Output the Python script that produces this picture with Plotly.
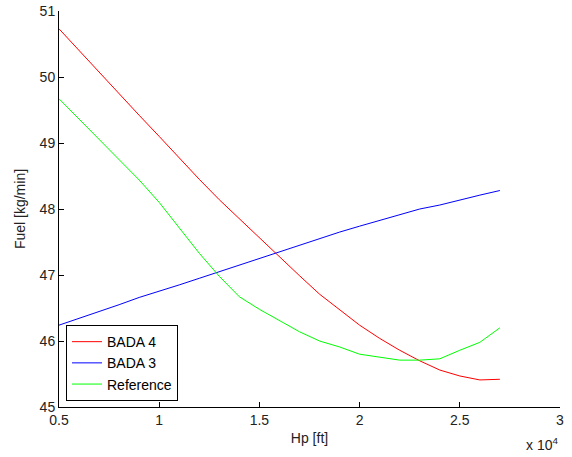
import plotly.graph_objects as go

hp = [5000, 6000, 7000, 8000, 9000, 10000, 11000, 12000, 13000, 14000, 15000, 16000,
      17000, 18000, 19000, 20000, 21000, 22000, 23000, 24000, 25000, 26000, 27000]

bada4 = [50.73, 50.40, 50.08, 49.75, 49.42, 49.10, 48.77, 48.45, 48.14, 47.85, 47.56, 47.27,
         46.99, 46.71, 46.47, 46.24, 46.04, 45.86, 45.70, 45.56, 45.47, 45.41, 45.42]
bada3 = [46.24, 46.34, 46.44, 46.55, 46.66, 46.75, 46.85, 46.95, 47.05, 47.15, 47.25, 47.36,
         47.46, 47.56, 47.65, 47.74, 47.83, 47.91, 48.00, 48.06, 48.14, 48.21, 48.28]
reference = [49.67, 49.36, 49.05, 48.75, 48.44, 48.10, 47.72, 47.33, 46.98, 46.67, 46.48, 46.31,
             46.14, 46.00, 45.91, 45.80, 45.75, 45.71, 45.71, 45.73, 45.86, 45.98, 46.20]

x_ticks = [5000, 10000, 15000, 20000, 25000, 30000]
x_ticktext = ["0.5", "1", "1.5", "2", "2.5", "3"]
y_ticks = [45, 46, 47, 48, 49, 50, 51]

font = "Liberation Sans, Arial, sans-serif"

fig = go.Figure()
fig.add_trace(go.Scatter(x=hp, y=bada4, mode="lines", name="BADA 4",
                         line=dict(color="#FF0000", width=1)))
fig.add_trace(go.Scatter(x=hp, y=bada3, mode="lines", name="BADA 3",
                         line=dict(color="#0000FF", width=1)))
fig.add_trace(go.Scatter(x=hp, y=reference, mode="lines", name="Reference",
                         line=dict(color="#00FF00", width=1)))

fig.update_layout(
    width=572, height=457,
    margin=dict(l=59, r=12, t=11, b=50),
    paper_bgcolor="white", plot_bgcolor="white",
    font=dict(family=font, size=14, color="#222222"),
    showlegend=True,
    legend=dict(x=0.014, y=0.015, xanchor="left", yanchor="bottom",
                bordercolor="black", borderwidth=1, bgcolor="white",
                font=dict(size=14, color="black"), tracegroupgap=0),
    xaxis=dict(range=[5000, 30000], tickvals=x_ticks, ticktext=x_ticktext,
               ticks="inside", ticklen=5, tickcolor="black", automargin=False,
               showline=True, linecolor="black", linewidth=1,
               showgrid=False, zeroline=False,
               title=dict(text="Hp [ft]", font=dict(size=14), standoff=6)),
    yaxis=dict(range=[45, 51], tickvals=y_ticks,
               ticks="inside", ticklen=5, tickcolor="black", automargin=False,
               showline=True, linecolor="black", linewidth=1,
               showgrid=False, zeroline=False,
               title=dict(text="Fuel [kg/min]", font=dict(size=14), standoff=10)),
    annotations=[dict(text="x 10<sup>4</sup>", xref="paper", yref="paper",
                      x=1.0, y=0, xanchor="right", yanchor="top", yshift=-26,
                      showarrow=False, font=dict(size=14))],
)

fig.write_html("out.html")
